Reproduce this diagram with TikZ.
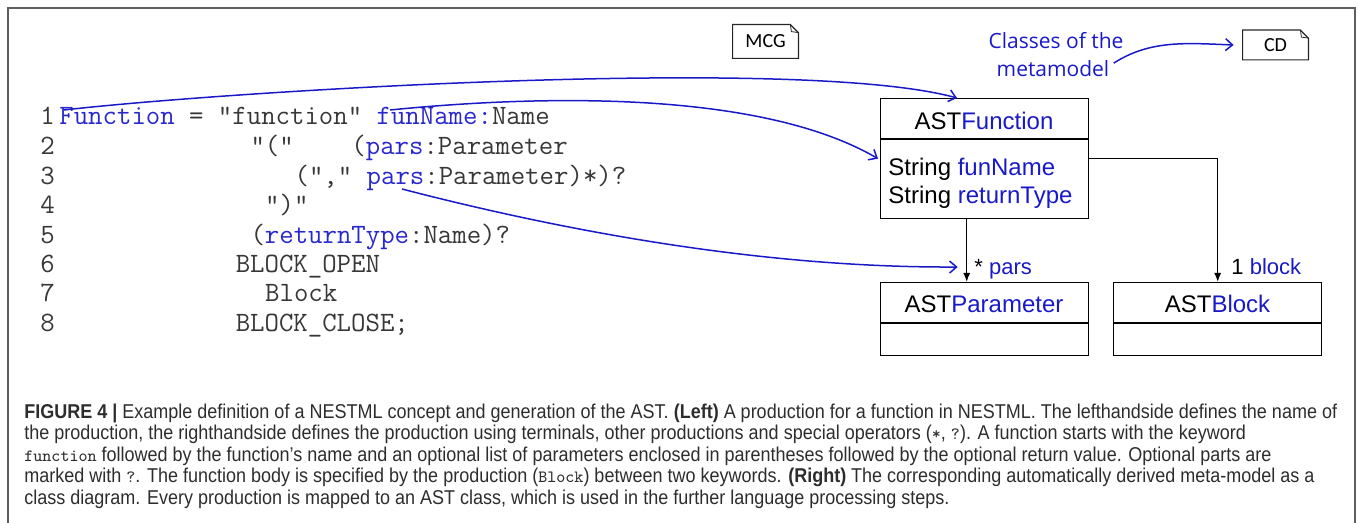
\documentclass[tikz,border=0pt]{standalone}
\usepackage{fontspec}
\setmainfont{Liberation Sans}
\newfontfamily\capfont[FakeStretch=0.9]{Liberation Sans}
\newfontfamily\docfont{Carlito}
\newfontfamily\handfont{Open Sans}
\usetikzlibrary{arrows.meta,calc}
\definecolor{ub}{RGB}{25,25,200}
\definecolor{codeblue}{RGB}{40,40,205}
\definecolor{codegray}{RGB}{55,55,55}
\definecolor{framegray}{RGB}{95,95,95}
\definecolor{capgray}{RGB}{45,45,45}
\newcommand{\kw}[1]{\textcolor{codeblue}{#1}}
\newcommand{\capmono}[1]{{\ttfamily\fontsize{8.6}{9}\selectfont #1}}
\tikzset{
  umlbox/.style={draw=black, line width=0.7pt, minimum width=104pt, inner sep=0pt, anchor=north west},
  umltext/.style={inner sep=0pt, font=\fontsize{12}{14}\selectfont},
  code/.style={anchor=base west, inner sep=0pt, font=\fontsize{14}{16}\selectfont\ttfamily, text=codegray},
  caption/.style={anchor=base west, inner sep=0pt, font=\capfont\fontsize{10}{12}\selectfont, text=capgray},
  bluearrow/.style={draw=ub, line width=0.75pt, -{Straight Barb[length=3.5pt,width=6pt]}},
  blackarrow/.style={draw=black, line width=0.7pt, -{Latex[length=4.5pt,width=3.5pt]}},
  docnode/.style={inner sep=0pt, minimum width=32.5pt, minimum height=16pt, font=\docfont\fontsize{10}{12}\selectfont},
  docline/.style={draw=black!85, line width=0.6pt},
  lbl/.style={anchor=base west, inner sep=0pt, font=\fontsize{11}{13}\selectfont},
  hand/.style={anchor=base, inner sep=0pt, text=ub, font=\handfont\fontsize{10.5}{12}\selectfont}
}
\begin{document}
\begin{tikzpicture}[x=0.5pt,y=-0.5pt]
\useasboundingbox (0,0) rectangle (1358,523);
% frame
\draw[framegray, line width=1pt] (8,523) -- (8,8) -- (1355,8) -- (1355,523);

% code listing
\node[code] (n1) at (40,125) {1};
\node[code] (n2) at (40,155) {2};
\node[code] (n3) at (40,185) {3};
\node[code] (n4) at (40,214) {4};
\node[code] (n5) at (40,244) {5};
\node[code] (n6) at (40,273) {6};
\node[code] (n7) at (40,302) {7};
\node[code] (n8) at (40,332) {8};
\node[code] (l1) at (59,125) {\kw{Function} = "function" \kw{funName:}Name};
\node[code] (l2) at (250.1,155) {"("~~~~(\kw{pars}:Parameter};
\node[code] (l3) at (294.2,185) {(","~\kw{pars}:Parameter)*)?};
\node[code] (l4) at (264.8,214) {")"};
\node[code] (l5) at (250.1,244) {(\kw{returnType}:Name)?};
\node[code] (l6) at (235.4,273) {BLOCK\_OPEN};
\node[code] (l7) at (264.8,302) {Block};
\node[code] (l8) at (235.4,332) {BLOCK\_CLOSE;};

% UML classes
\node[umlbox, minimum height=60pt] (fn) at (880,98) {};
\node[umlbox, minimum height=36.5pt] (par) at (880,282) {};
\node[umlbox, minimum height=36.5pt] (blk) at (1113,282) {};
\draw[line width=0.7pt] ($(fn.north west)+(0,41)$) -- ($(fn.north east)+(0,41)$);
\draw[line width=0.7pt] ($(par.north west)+(0,41)$) -- ($(par.north east)+(0,41)$);
\draw[line width=0.7pt] ($(blk.north west)+(0,41)$) -- ($(blk.north east)+(0,41)$);
\node[umltext, anchor=base] (fnT) at (984,130) {AST\textcolor{ub}{Function}};
\node[umltext, anchor=base west] (fa1) at (888,176) {String \textcolor{ub}{funName}};
\node[umltext, anchor=base west] (fa2) at (888,204) {String \textcolor{ub}{returnType}};
\node[umltext, anchor=base] (parT) at (984,313) {AST\textcolor{ub}{Parameter}};
\node[umltext, anchor=base] (blkT) at (1217.5,313) {AST\textcolor{ub}{Block}};

% associations
\draw[blackarrow] ($(fn.south)+(-18,0)$) -- ($(par.north)+(-18,0)$);
\draw[blackarrow] (fn.east) -| (blk.north);
\node[lbl] (lp) at (974,275) {*~\textcolor{ub}{pars}};
\node[lbl] (lb) at (1231,275) {1 \textcolor{ub}{block}};

% documents
\node[docnode, minimum height=16.5pt] (mcg) at (765.5,41.5) {MCG};
\node[docnode, minimum height=14.5pt] (cd) at (1275.5,45) {CD};
\draw[docline] (mcg.south west) -- (mcg.north west) -- ($(mcg.north east)+(-8,0)$) -- ($(mcg.north east)+(0,8)$) -- (mcg.south east) -- cycle;
\draw[docline, line width=0.4pt] ($(mcg.north east)+(-8,0)$) -- ($(mcg.north east)+(-7,7)$) -- ($(mcg.north east)+(0,8)$);
\draw[docline] (cd.south west) -- (cd.north west) -- ($(cd.north east)+(-8,0)$) -- ($(cd.north east)+(0,8)$) -- (cd.south east) -- cycle;
\draw[docline, line width=0.4pt] ($(cd.north east)+(-8,0)$) -- ($(cd.north east)+(-7,7)$) -- ($(cd.north east)+(0,8)$);

% annotation
\node[hand] (cls1) at (1056,49) {Classes of the};
\node[hand] (cls2) at (1053,77) {metamodel};

% blue mapping arrows
\coordinate (sFun) at (64,110);
\coordinate (sFunName) at (390,110);
\coordinate (sPars) at (402,189);
\draw[bluearrow] (sFun) .. controls (220,92) and (800,55) .. ($(fn.north west)+(77,0)$);
\draw[bluearrow] (sFunName) .. controls (540,95) and (760,90) .. ($(fn.west)+(-2,0)$);
\draw[bluearrow] (sPars) .. controls (560,230) and (760,268) .. ($(par.north)+(-27,-15)$);
\draw[bluearrow] ($(cls2.east)+(4,-6)$) .. controls (1150,40) and (1185,43) .. ($(cd.west)+(-9,0)$);

% caption
\node[caption] (c1) at (24,418) {\textbf{FIGURE 4 |} Example definition of a NESTML concept and generation of the AST. \textbf{(Left)} A production for a function in NESTML. The lefthandside defines the name of};
\node[caption] (c2) at (24,439.5) {the production, the righthandside defines the production using terminals, other productions and special operators (\capmono{*}, \capmono{?}). A function starts with the keyword};
\node[caption] (c3) at (24,461) {\capmono{function} followed by the function’s name and an optional list of parameters enclosed in parentheses followed by the optional return value. Optional parts are};
\node[caption] (c4) at (24,482.5) {marked with \capmono{?}. The function body is specified by the production (\capmono{Block}) between two keywords. \textbf{(Right)} The corresponding automatically derived meta-model as a};
\node[caption] (c5) at (24,504) {class diagram. Every production is mapped to an AST class, which is used in the further language processing steps.};
\end{tikzpicture}
\end{document}
